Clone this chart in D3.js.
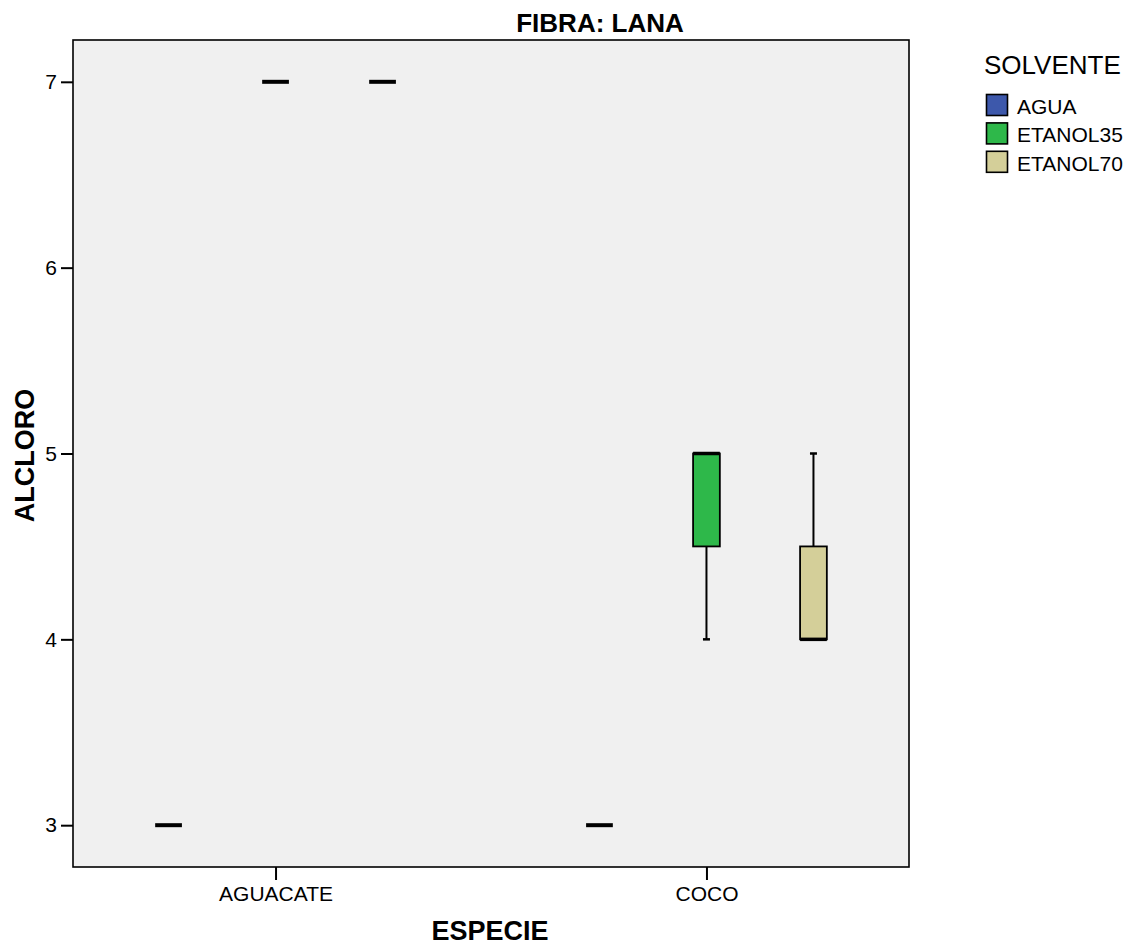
<!DOCTYPE html>
<html>
<head>
<meta charset="utf-8">
<style>
    body { margin: 0; background: #fff; }
    svg { font-family: Arial, 'Liberation Sans', sans-serif; }
</style>
</head>
<body>
<svg width="1130" height="946"></svg>
<script src="https://d3js.org/d3.v7.min.js"></script>
<script>
    // categories and series
    const especies = ["AGUACATE", "COCO"];
    const solventes = ["AGUA", "ETANOL35", "ETANOL70"];
    const colores = ["#3d58ab", "#2eb84a", "#d4cf99"];

    // five number summaries [min, q1, median, q3, max] per especie
    const agua = [[3, 3, 3, 3, 3], [3, 3, 3, 3, 3]];
    const etanol35 = [[7, 7, 7, 7, 7], [4, 4.5, 5, 5, 5]];
    const etanol70 = [[7, 7, 7, 7, 7], [4, 4, 4, 4.5, 5]];

    const yTicks = [3, 4, 5, 6, 7];

    let statsBySerie = [agua, etanol35, etanol70];
    let boxes = [];
    especies.forEach((e, i) => {
        solventes.forEach((s, j) => {
            let st = statsBySerie[j][i];
            boxes.push({ especie: e, solvente: s, color: colores[j],
                min: st[0], q1: st[1], med: st[2], q3: st[3], max: st[4] });
        });
    });

    let margin = { top: 40, left: 73 };
    let width = 836, height = 827;

    let svg = d3.select("svg");
    let g = svg.append("g").attr("transform", `translate(${margin.left},${margin.top})`);

    g.append("rect")
        .attr("width", width).attr("height", height)
        .style("fill", "#f0f0f0");

    let x = d3.scalePoint().domain(especies).range([0, width]).padding(0.47);
    let xi = d3.scaleBand().domain(solventes).range([-160.5, 160.5])
        .paddingInner(0.75).paddingOuter(0.375);
    let y = d3.scaleLinear().domain([2.775, 7.225]).range([height, 0]);

    let bw = xi.bandwidth();

    let bg = g.selectAll(".box")
        .data(boxes)
        .join("g")
        .attr("class", "box")
        .attr("transform", d => `translate(${x(d.especie) + xi(d.solvente)},0)`);

    // whiskers
    bg.filter(d => d.max > d.q3).append("line")
        .attr("x1", bw / 2).attr("x2", bw / 2)
        .attr("y1", d => y(d.q3)).attr("y2", d => y(d.max))
        .style("stroke", "#000").style("stroke-width", 2);
    bg.filter(d => d.min < d.q1).append("line")
        .attr("x1", bw / 2).attr("x2", bw / 2)
        .attr("y1", d => y(d.q1)).attr("y2", d => y(d.min))
        .style("stroke", "#000").style("stroke-width", 2);
    bg.filter(d => d.max > d.q3).append("line")
        .attr("x1", bw / 2 - 3.5).attr("x2", bw / 2 + 3.5)
        .attr("y1", d => y(d.max)).attr("y2", d => y(d.max))
        .style("stroke", "#000").style("stroke-width", 2.5);
    bg.filter(d => d.min < d.q1).append("line")
        .attr("x1", bw / 2 - 3.5).attr("x2", bw / 2 + 3.5)
        .attr("y1", d => y(d.min)).attr("y2", d => y(d.min))
        .style("stroke", "#000").style("stroke-width", 2.5);

    // boxes
    bg.filter(d => d.q3 > d.q1).append("rect")
        .attr("x", 0).attr("width", bw)
        .attr("y", d => y(d.q3)).attr("height", d => y(d.q1) - y(d.q3))
        .style("fill", d => d.color)
        .style("stroke", "#000").style("stroke-width", 1.8);

    // medians
    bg.append("line")
        .attr("x1", 0).attr("x2", bw)
        .attr("y1", d => y(d.med)).attr("y2", d => y(d.med))
        .style("stroke", "#000").style("stroke-width", d => d.q3 > d.q1 ? 3.5 : 4);

    // frame
    g.append("rect")
        .attr("width", width).attr("height", height)
        .style("fill", "none").style("stroke", "#000").style("stroke-width", 1.6);

    // axes
    let yAxis = g.append("g")
        .call(d3.axisLeft(y).tickValues(yTicks).tickSize(12).tickPadding(4).tickFormat(d3.format("d")));
    yAxis.select(".domain").remove();
    yAxis.selectAll(".tick line").style("stroke-width", 2);
    yAxis.selectAll("text").style("font-size", "21px").style("fill", "#000")
        .style("font-family", "Arial, 'Liberation Sans', sans-serif");

    let xAxis = g.append("g")
        .attr("transform", `translate(0,${height})`)
        .call(d3.axisBottom(x).tickSize(13).tickPadding(6));
    xAxis.select(".domain").remove();
    xAxis.selectAll(".tick line").style("stroke-width", 2);
    xAxis.selectAll("text").style("font-size", "21px").style("fill", "#000")
        .style("font-family", "Arial, 'Liberation Sans', sans-serif");

    // titles
    svg.append("text")
        .attr("x", 600).attr("y", 32)
        .attr("text-anchor", "middle")
        .style("font-size", "26px").style("font-weight", "bold")
        .text("FIBRA: LANA");

    svg.append("text")
        .attr("x", margin.left + width / 2 - 1).attr("y", 940)
        .attr("text-anchor", "middle")
        .style("font-size", "27px").style("font-weight", "bold")
        .text("ESPECIE");

    svg.append("text")
        .attr("transform", `translate(34,${margin.top + height / 2 + 2}) rotate(-90)`)
        .attr("text-anchor", "middle")
        .style("font-size", "27px").style("font-weight", "bold")
        .text("ALCLORO");

    // legend
    let legend = svg.append("g").attr("transform", "translate(984,0)");
    legend.append("text")
        .attr("x", 0).attr("y", 74)
        .style("font-size", "26px")
        .text("SOLVENTE");

    let items = legend.selectAll(".item")
        .data(solventes)
        .join("g")
        .attr("class", "item")
        .attr("transform", (d, i) => `translate(0,${94 + i * 28.4})`);
    items.append("rect")
        .attr("x", 2.5).attr("y", 0.5)
        .attr("width", 21).attr("height", 21)
        .style("fill", (d, i) => colores[i])
        .style("stroke", "#000").style("stroke-width", 1.6);
    items.append("text")
        .attr("x", 33).attr("y", 20)
        .style("font-size", "21px")
        .text(d => d);
</script>
</body>
</html>
